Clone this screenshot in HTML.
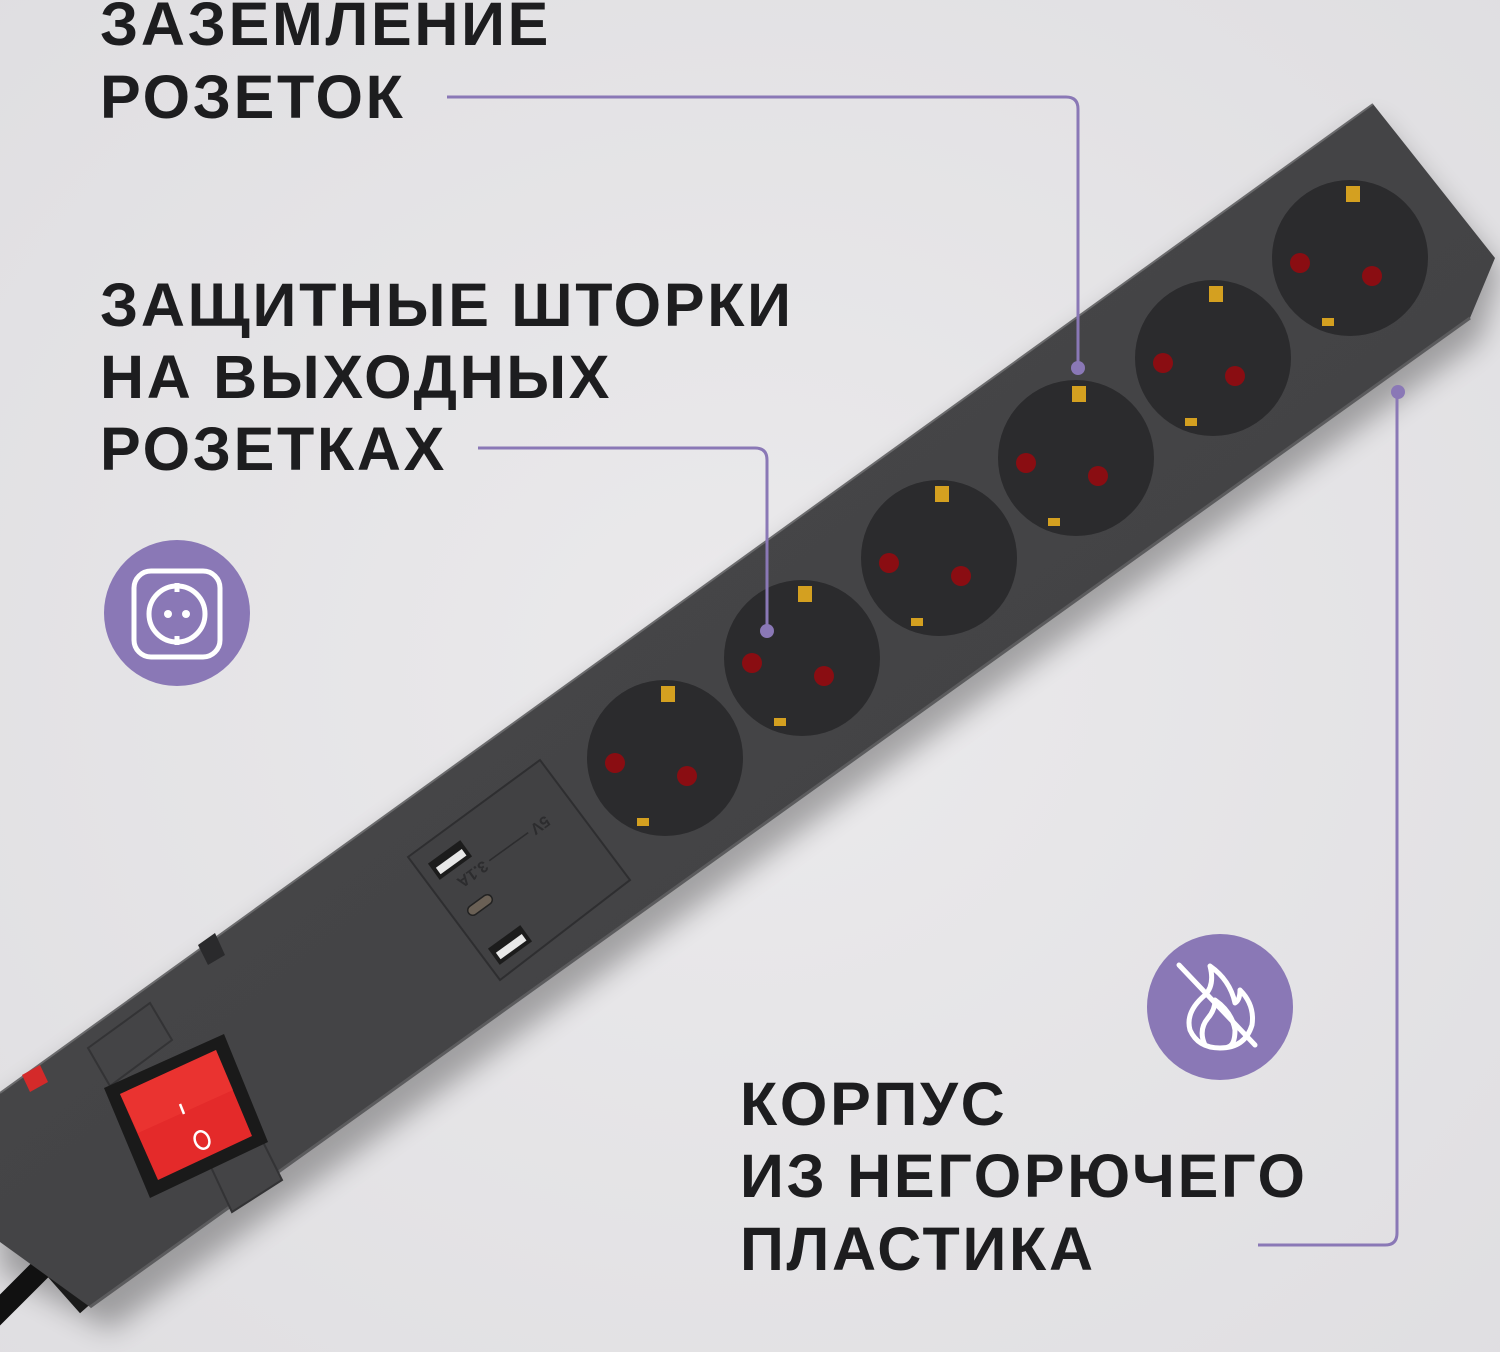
<!DOCTYPE html>
<html><head><meta charset="utf-8"><style>
html,body{margin:0;padding:0;background:#e5e4e6;}
svg{display:block}
.t{font-family:"Liberation Sans","DejaVu Sans",sans-serif;font-weight:bold;font-size:61px;fill:#1d1d1f;letter-spacing:2.7px}
</style></head><body>
<svg width="1500" height="1352" viewBox="0 0 1500 1352" xmlns="http://www.w3.org/2000/svg">
<defs>
<radialGradient id="bg" cx="0.5" cy="0.5" r="0.8"><stop offset="0" stop-color="#ebeaec"/><stop offset="1" stop-color="#dedde0"/></radialGradient>
<filter id="sh" x="-20%" y="-20%" width="140%" height="140%"><feGaussianBlur stdDeviation="14"/></filter>
<linearGradient id="body" x1="0" y1="0" x2="1" y2="1"><stop offset="0" stop-color="#4a4a4c"/><stop offset="1" stop-color="#3e3e40"/></linearGradient>
</defs>
<rect width="1500" height="1352" fill="url(#bg)"/>

<polygon points="1373,120 1500,270 1480,340 110,1330 0,1270 0,1110" fill="#000" opacity="0.3" filter="url(#sh)"/>
<path d="M60,1250 C30,1280 10,1300 -10,1320" stroke="#111" stroke-width="22" fill="none"/>
<path d="M40,1238 L95,1300" stroke="#1a1a1a" stroke-width="40"/>
<polygon points="1373,104 1495,258 1470,318 90,1307 0,1242 0,1093" fill="url(#body)"/>
<polyline points="1373,104 0,1093" stroke="#6a6a6c" stroke-width="2" fill="none"/>
<polyline points="1470,318 90,1307" stroke="#5c5c5e" stroke-width="3" fill="none"/>
<polygon points="198,945 215,933 225,955 208,965" fill="#2a2a2c"/>
<polygon points="22,1075 40,1065 48,1082 30,1092" fill="#d42a2a"/>
<polygon points="88,1048 150,1003 172,1040 110,1086" fill="#444446" stroke="#333335" stroke-width="2"/>
<polygon points="210,1165 258,1132 282,1180 232,1212" fill="#444446" stroke="#333335" stroke-width="2"/>
<polygon points="104,1088 224,1034 268,1142 150,1198" fill="#1a1a1a"/>
<polygon points="120,1094 216,1050 252,1136 158,1180" fill="#e42a2a"/>
<polygon points="120,1094 216,1050 233,1090 138,1133" fill="#ee3b36" opacity="0.6"/>
<line x1="180" y1="1104" x2="184" y2="1114" stroke="#fff" stroke-width="2.5"/>
<ellipse cx="202" cy="1140" rx="7" ry="9" fill="none" stroke="#fff" stroke-width="2.5" transform="rotate(-25 202 1140)"/>

<polygon points="408,857 540,760 630,880 500,980" fill="#414143" stroke="#2e2e30" stroke-width="2"/>
<g transform="translate(450,860) rotate(-36)"><rect x="-20" y="-10" width="40" height="20" fill="#1c1c1c"/><rect x="-16" y="-2" width="32" height="8" fill="#e8e8e8"/></g>
<g transform="translate(480,905) rotate(-36)"><rect x="-14" y="-5" width="28" height="10" rx="5" fill="#6a6055" stroke="#222" stroke-width="1.5"/></g>
<g transform="translate(510,945) rotate(-36)"><rect x="-20" y="-10" width="40" height="20" fill="#1c1c1c"/><rect x="-16" y="-2" width="32" height="8" fill="#e8e8e8"/></g>
<text x="0" y="0" transform="translate(545,815) rotate(144)" font-family="Liberation Sans,sans-serif" font-size="16" fill="#2c2c2e" font-weight="bold">5V ——— 3.1A</text>

<g>
<g transform="translate(1350,258)"><circle r="78" fill="#2b2b2d"/><circle cx="-50" cy="5" r="10" fill="#8a0d12"/><circle cx="22" cy="18" r="10" fill="#8a0d12"/><rect x="-4" y="-72" width="14" height="16" fill="#d4a020"/><rect x="-28" y="60" width="12" height="8" fill="#d4a020"/></g>
<g transform="translate(1213,358)"><circle r="78" fill="#2b2b2d"/><circle cx="-50" cy="5" r="10" fill="#8a0d12"/><circle cx="22" cy="18" r="10" fill="#8a0d12"/><rect x="-4" y="-72" width="14" height="16" fill="#d4a020"/><rect x="-28" y="60" width="12" height="8" fill="#d4a020"/></g>
<g transform="translate(1076,458)"><circle r="78" fill="#2b2b2d"/><circle cx="-50" cy="5" r="10" fill="#8a0d12"/><circle cx="22" cy="18" r="10" fill="#8a0d12"/><rect x="-4" y="-72" width="14" height="16" fill="#d4a020"/><rect x="-28" y="60" width="12" height="8" fill="#d4a020"/></g>
<g transform="translate(939,558)"><circle r="78" fill="#2b2b2d"/><circle cx="-50" cy="5" r="10" fill="#8a0d12"/><circle cx="22" cy="18" r="10" fill="#8a0d12"/><rect x="-4" y="-72" width="14" height="16" fill="#d4a020"/><rect x="-28" y="60" width="12" height="8" fill="#d4a020"/></g>
<g transform="translate(802,658)"><circle r="78" fill="#2b2b2d"/><circle cx="-50" cy="5" r="10" fill="#8a0d12"/><circle cx="22" cy="18" r="10" fill="#8a0d12"/><rect x="-4" y="-72" width="14" height="16" fill="#d4a020"/><rect x="-28" y="60" width="12" height="8" fill="#d4a020"/></g>
<g transform="translate(665,758)"><circle r="78" fill="#2b2b2d"/><circle cx="-50" cy="5" r="10" fill="#8a0d12"/><circle cx="22" cy="18" r="10" fill="#8a0d12"/><rect x="-4" y="-72" width="14" height="16" fill="#d4a020"/><rect x="-28" y="60" width="12" height="8" fill="#d4a020"/></g>
</g>

<g stroke="#8a78b6" stroke-width="3" fill="none">
<path d="M447,97 H1066 Q1078,97 1078,109 V368"/>
<path d="M478,448 H755 Q767,448 767,460 V630"/>
<path d="M1397,392 V1233 Q1397,1245 1385,1245 H1258"/>
</g>
<g fill="#8a78b6"><circle cx="1078" cy="368" r="7"/><circle cx="767" cy="631" r="7"/><circle cx="1398" cy="392" r="7"/></g>

<circle cx="177" cy="613" r="73" fill="#8a78b6"/>
<rect x="134" y="571" width="86" height="86" rx="17" fill="none" stroke="#fff" stroke-width="5"/>
<circle cx="177" cy="614" r="28" fill="none" stroke="#fff" stroke-width="5"/>
<line x1="177" y1="583" x2="177" y2="592" stroke="#fff" stroke-width="5"/>
<line x1="177" y1="636" x2="177" y2="645" stroke="#fff" stroke-width="5"/>
<circle cx="168" cy="614" r="4" fill="#fff"/><circle cx="186" cy="614" r="4" fill="#fff"/>

<circle cx="1220" cy="1007" r="73" fill="#8a78b6"/>
<g stroke="#fff" stroke-width="5" fill="none" stroke-linejoin="round" stroke-linecap="round">
<path d="M1210,966 Q1215,985 1205,995 Q1185,1012 1190,1030 Q1198,1048 1220,1048 Q1245,1048 1252,1025 Q1255,1005 1240,990 Q1240,1000 1235,1003 Q1230,980 1210,966 Z"/>
<path d="M1205,1045 Q1198,1030 1208,1018 Q1215,1010 1215,1000 Q1232,1012 1235,1030 Q1235,1045 1228,1047"/>
<line x1="1179" y1="965" x2="1255" y2="1045"/>
</g>

<text class="t" x="100" y="45">ЗАЗЕМЛЕНИЕ</text>
<text class="t" x="100" y="118">РОЗЕТОК</text>
<text class="t" x="100" y="326">ЗАЩИТНЫЕ ШТОРКИ</text>
<text class="t" x="100" y="398">НА ВЫХОДНЫХ</text>
<text class="t" x="100" y="470">РОЗЕТКАХ</text>
<text class="t" x="740" y="1125">КОРПУС</text>
<text class="t" x="740" y="1197">ИЗ НЕГОРЮЧЕГО</text>
<text class="t" x="740" y="1270">ПЛАСТИКА</text>
</svg>
</body></html>
